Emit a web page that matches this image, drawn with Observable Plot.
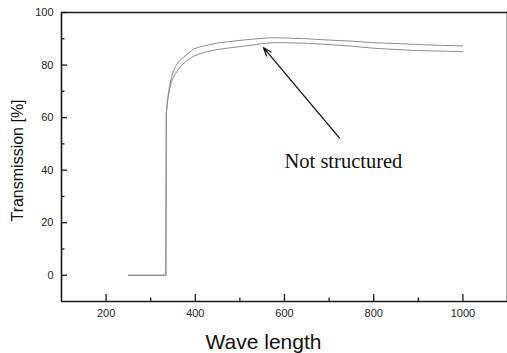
<!DOCTYPE html>
<html>
<head>
<meta charset="utf-8">
<script src="https://cdn.jsdelivr.net/npm/d3@7"></script>
<script src="https://cdn.jsdelivr.net/npm/@observablehq/plot@0.6"></script>
<style>
  html, body { margin: 0; padding: 0; background: #fff; }
  #chart svg { display: block; }
</style>
</head>
<body>
<div id="chart"></div>
<script>
// Wavelength samples (nm)
const wavelength = [250, 334, 335, 338, 342, 346, 350, 356, 362, 370, 380, 395, 410, 430, 450, 475, 500, 525, 550, 575, 600, 650, 700, 750, 800, 850, 900, 950, 1000];
// Upper curve (Transmission %)
const upperT = [0, 0, 61.8, 67.3, 71.8, 75.0, 77.3, 79.5, 81.2, 82.4, 83.9, 86.0, 86.9, 87.7, 88.4, 88.9, 89.4, 89.8, 90.2, 90.4, 90.3, 90.0, 89.5, 89.1, 88.5, 88.2, 87.8, 87.5, 87.3];
// Lower curve (Transmission %)
const lowerT = [0, 0, 61.8, 66.4, 70.5, 73.2, 75.0, 76.8, 78.4, 80.0, 81.5, 83.2, 84.3, 85.2, 85.9, 86.5, 87.0, 87.5, 88.2, 88.5, 88.5, 88.3, 87.8, 87.2, 86.4, 85.9, 85.5, 85.3, 85.1];

// Axis ticks
const xMajorTicks = [200, 400, 600, 800, 1000];
const xMinorTicks = [300, 500, 700, 900];
const yMajorTicks = [0, 20, 40, 60, 80, 100];
const yMinorTicks = [10, 30, 50, 70, 90];

// Labels
const xLabel = "Wave length";
const yLabel = "Transmission [%]";

// Annotation
const noteText = ["Not structured"];
const noteX = [600];
const noteY = [43.3];
const arrowFrom = [{x: 723, y: 52.3}];
const arrowTo = [{x: 553, y: 86.6}];

const upper = wavelength.map((w, i) => ({w, t: upperT[i]}));
const lower = wavelength.map((w, i) => ({w, t: lowerT[i]}));
const arrows = arrowFrom.map((a, i) => ({x1: a.x, y1: a.y, x2: arrowTo[i].x, y2: arrowTo[i].y}));
const notes = noteText.map((s, i) => ({s, x: noteX[i], y: noteY[i]}));

const W = 507, H = 353;
const mL = 61, mR = 0, mT = 12, mB = 52;
const frameW = W - mL - mR, frameH = H - mT - mB;

const axisColor = "#1a1a1a";
const sans = "Liberation Sans, Arial, sans-serif";

const chart = Plot.plot({
  width: W,
  height: H,
  marginLeft: mL,
  marginRight: mR,
  marginTop: mT,
  marginBottom: mB,
  style: {background: "#fff", fontFamily: sans, color: axisColor},
  x: {domain: [100, 1100]},
  y: {domain: [-10, 100]},
  marks: [
    // axis tick labels
    Plot.axisX({ticks: xMajorTicks, tickFormat: d => String(d), tickSize: 0, tickPadding: 8, label: null, fontSize: 11, fill: "#222"}),
    Plot.axisY({ticks: yMajorTicks, tickFormat: d => String(d), tickSize: 0, tickPadding: 8, label: null, fontSize: 11, fill: "#222"}),
    // inward ticks
    Plot.tickX(xMajorTicks, {x: d => d, insetTop: frameH - 7, stroke: axisColor, strokeWidth: 1.3}),
    Plot.tickX(xMinorTicks, {x: d => d, insetTop: frameH - 3.5, stroke: axisColor, strokeWidth: 1.3}),
    Plot.tickY(yMajorTicks, {y: d => d, insetRight: frameW - 6, stroke: axisColor, strokeWidth: 1.3}),
    Plot.tickY(yMinorTicks, {y: d => d, insetRight: frameW - 3.5, stroke: axisColor, strokeWidth: 1.3}),
    // frame lines (left, bottom, top, right)
    Plot.ruleX([100], {stroke: axisColor, strokeWidth: 1.6}),
    Plot.ruleX([1100], {stroke: "#555", strokeWidth: 1, dx: -0.5}),
    Plot.ruleY([-10], {stroke: axisColor, strokeWidth: 1.6}),
    Plot.ruleY([100], {stroke: axisColor, strokeWidth: 1.6}),
    // curves
    Plot.line(upper, {x: "w", y: "t", stroke: "#8c8c8c", strokeWidth: 1, curve: "linear"}),
    Plot.line(lower, {x: "w", y: "t", stroke: "#8c8c8c", strokeWidth: 1, curve: "linear"}),
    // annotation arrow and text
    Plot.arrow(arrows, {x1: "x1", y1: "y1", x2: "x2", y2: "y2", stroke: "#111", strokeWidth: 1.3, headLength: 10, headAngle: 40}),
    Plot.text(notes, {x: "x", y: "y", text: "s", textAnchor: "start", fontFamily: "Liberation Serif, Times New Roman, serif", fontSize: 20.5, fill: "#111"}),
    // axis titles
    Plot.text([xLabel], {frameAnchor: "bottom", textAnchor: "middle", lineAnchor: "middle", dx: -21, dy: 41, fontSize: 21, fill: "#111", fontFamily: sans}),
    Plot.text([yLabel], {frameAnchor: "left", textAnchor: "middle", lineAnchor: "middle", rotate: -90, dx: -44, dy: 3.5, fontSize: 16, fill: "#111", fontFamily: sans})
  ]
});

document.getElementById("chart").appendChild(chart);
</script>
</body>
</html>
